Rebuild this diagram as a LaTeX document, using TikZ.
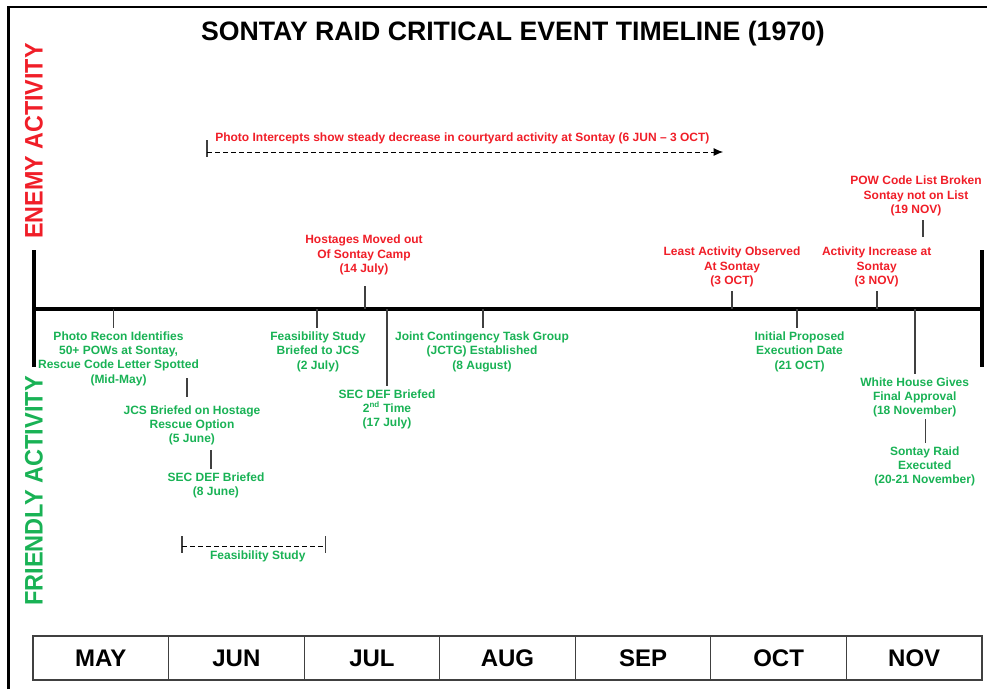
\documentclass[tikz,border=0pt]{standalone}
\usepackage{fontspec}
\setmainfont{Liberation Sans}
\usetikzlibrary{arrows.meta}
\definecolor{enemyred}{RGB}{240,30,40}
\definecolor{friendgreen}{RGB}{25,178,85}

\begin{document}
\begin{tikzpicture}[x=0.75pt,y=-0.75pt,
	event/.style={font=\fontsize{9}{10.7}\selectfont\bfseries, align=center, inner sep=0pt, outer sep=3pt},
	enemy/.style={event, text=enemyred, anchor=south},
	friendly/.style={event, text=friendgreen, anchor=north},
	tick/.style={black!75, line width=1.1pt},
	side/.style={font=\fontsize{19}{20}\selectfont\bfseries, rotate=90, inner sep=0pt},
	month/.style={draw=black!75, line width=0.8pt, minimum width=101.68pt, minimum height=33pt, inner sep=0pt, font=\fontsize{18}{18}\selectfont\bfseries}]
	\useasboundingbox (0,0) rectangle (987,689);
	\draw[line width=1.9pt] (8.5,689) -- (8.5,7) -- (987,7);
	
	\node[font=\fontsize{20}{24}\selectfont\bfseries] (title) at (513,33.5) {SONTAY RAID CRITICAL EVENT TIMELINE (1970)};
	\node[side, text=enemyred] (enemy) at (34,141) {\scalebox{0.92}[1]{ENEMY ACTIVITY}};
	\node[side, text=friendgreen] (friendly) at (34,491) {\scalebox{0.93}[1]{FRIENDLY ACTIVITY}};
	
	% main time line
	\coordinate (tl-start) at (34,309);
	\coordinate (tl-end) at (982,309);
	\draw[line width=3pt] (tl-start) -- (tl-end);
	\draw[line width=3pt] (34,250) -- (34,367);
	\draw[line width=3pt] (982,250) -- (982,367);
	
	% photo intercepts
	\coordinate (int-start) at (207,152);
	\coordinate (int-end) at (723,152);
	\node[font=\fontsize{9}{10.7}\selectfont\bfseries, text=enemyred, anchor=west, inner sep=0pt] (intercept) at (215,138) {Photo Intercepts show steady decrease in courtyard activity at Sontay (6 JUN -- 3 OCT)};
	\draw[black!75, line width=1.1pt] (207,140) -- (207,157);
	\draw[dash pattern=on 3.5pt off 2.5pt, line width=0.7pt, -{Latex[length=7pt,width=6pt]}] (int-start) -- (int-end);
	
	% enemy activity
	\coordinate (t-host) at (365,309);
	\node[enemy] (hostage) at (364,278.8) {Hostages Moved out\\Of Sontay Camp\\(14 July)};
	\draw[tick, shorten >=5.3pt] (t-host) -- (t-host |- hostage.south);
	
	\coordinate (t-least) at (732,309);
	\node[enemy] (least) at (732,290.8) {Least Activity Observed\\At Sontay\\(3 OCT)};
	\draw[tick] (t-least) -- (t-least |- least.south);
	
	\coordinate (t-incr) at (877,309);
	\node[enemy] (incr) at (876.7,290.8) {Activity Increase at\\Sontay\\(3 NOV)};
	\draw[tick] (t-incr) -- (t-incr |- incr.south);
	
	\coordinate (pow-tick) at (923,237);
	\node[enemy] (pow) at (916,219.8) {POW Code List Broken\\Sontay not on List\\(19 NOV)};
	\draw[tick] (pow-tick) -- (pow-tick |- pow.south);
	
	% friendly activity
	\coordinate (t-recon) at (113.7,309);
	\node[friendly] (recon) at (118.5,327.5) {Photo Recon Identifies\\50+ POWs at Sontay,\\Rescue Code Letter Spotted\\(Mid-May)};
	\draw[tick] (t-recon) -- (t-recon |- recon.north);
	
	\coordinate (jcs-tick) at (187,378);
	\node[friendly] (jcs) at (192,401.5) {JCS Briefed on Hostage\\Rescue Option\\(5 June)};
	\draw[tick, shorten >=3.75pt] (jcs-tick) -- (jcs-tick |- jcs.north);
	
	\coordinate (sec1-tick) at (211,450);
	\node[friendly] (secdef1) at (216,468.5) {SEC DEF Briefed\\(8 June)};
	\draw[tick] (sec1-tick) -- (sec1-tick |- secdef1.north);
	
	\coordinate (t-feas) at (317,309);
	\node[friendly] (feasbrief) at (318,328) {Feasibility Study\\Briefed to JCS\\(2 July)};
	\draw[tick] (t-feas) -- (t-feas |- feasbrief.north);
	
	\coordinate (t-sec2) at (387,309);
	\node[friendly] (secdef2) at (387,385.5) {SEC DEF Briefed\\2\textsuperscript{nd} Time\\(17 July)};
	\draw[tick] (t-sec2) -- (t-sec2 |- secdef2.north);
	
	\coordinate (t-jctg) at (483,309);
	\node[friendly] (jctg) at (482,328) {Joint Contingency Task Group\\(JCTG) Established\\(8 August)};
	\draw[tick] (t-jctg) -- (t-jctg |- jctg.north);
	
	\coordinate (t-init) at (797,309);
	\node[friendly] (initial) at (799.5,328) {Initial Proposed\\Execution Date\\(21 OCT)};
	\draw[tick] (t-init) -- (t-init |- initial.north);
	
	\coordinate (t-white) at (915,309);
	\node[friendly] (white) at (914.7,373.5) {White House Gives\\Final Approval\\(18 November)};
	\draw[tick] (t-white) -- (t-white |- white.north);
	
	\coordinate (raid-tick) at (925.7,419);
	\node[friendly] (raid) at (924.7,442.5) {Sontay Raid\\Executed\\(20-21 November)};
	\draw[tick] (raid-tick) -- (raid-tick |- raid.north);
	
	% feasibility study span
	\coordinate (fs-start) at (182,546.5);
	\coordinate (fs-end) at (325.7,546.5);
	\draw[black!75, line width=1.1pt] (182,536) -- (182,553);
	\draw[black!75, line width=1.1pt] (325.7,536) -- (325.7,553);
	\draw[dash pattern=on 3.5pt off 2.5pt, line width=0.7pt] (fs-start) -- (fs-end);
	\node[font=\fontsize{9}{10.7}\selectfont\bfseries, text=friendgreen, inner sep=0pt] (fslabel) at (257.8,556) {Feasibility Study};
	
	% months
	\foreach \m [count=\i from 0] in {MAY,JUN,JUL,AUG,SEP,OCT,NOV}
		\node[month] (m-\m) at ({33+135.57*(\i+0.5)},658) {\m};
\end{tikzpicture}
\end{document}
